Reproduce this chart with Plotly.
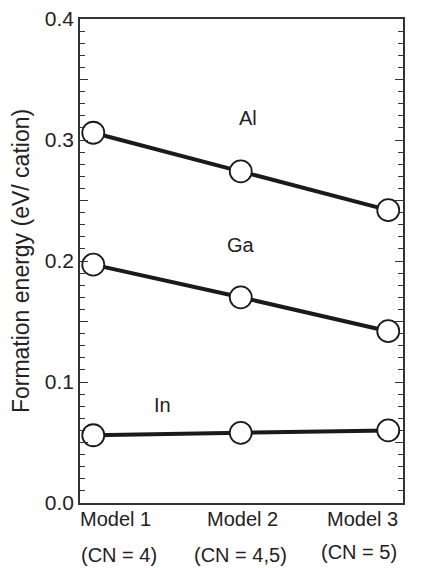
import plotly.graph_objects as go

models = ["Model 1", "Model 2", "Model 3"]
cn_labels = ["(CN = 4)", "(CN = 4,5)", "(CN = 5)"]
al = [0.306, 0.274, 0.242]
ga = [0.197, 0.170, 0.142]
in_ = [0.056, 0.058, 0.060]
series = [("Al", al), ("Ga", ga), ("In", in_)]
label_pos = {"Al": (1.05, 0.318), "Ga": (1.0, 0.213), "In": (0.47, 0.081)}
ytick_vals = [0.0, 0.05, 0.1, 0.15, 0.2, 0.25, 0.3, 0.35, 0.4]
ytick_text = ["0.0", "", "0.1", "", "0.2", "", "0.3", "", "0.4"]

FONT = "Liberation Sans, Arial, sans-serif"
xs = [0, 1, 2]
fig = go.Figure()
for name, vals in series:
    fig.add_trace(go.Scatter(
        x=xs, y=vals, mode="lines+markers", name=name,
        line=dict(color="#1a1a1a", width=4),
        marker=dict(size=22, color="white", line=dict(color="#1a1a1a", width=1.8)),
        showlegend=False, cliponaxis=False))
    lx, ly = label_pos[name]
    fig.add_annotation(x=lx, y=ly, text=name, showarrow=False,
                       font=dict(size=20, color="#222"), xref="x", yref="y")

label_x = [-0.005, 0.503, 0.991]
cn_x = [-0.003, 0.498, 0.989]
cn_y = [-0.107, -0.107, -0.101]
for i in range(3):
    fig.add_annotation(x=label_x[i], y=-0.033, text=models[i], showarrow=False,
                       xref="paper", yref="paper", yanchor="middle",
                       font=dict(size=20, color="#222"))
    fig.add_annotation(x=cn_x[i], y=cn_y[i], text=cn_labels[i],
                       showarrow=False, xref="paper", yref="paper", yanchor="middle",
                       font=dict(size=20, color="#222"))

# page body has an 8px margin: shrink figure by 8px and offset margins
fig.update_layout(
    width=435, height=560,
    margin=dict(l=72, r=40, t=11, b=65),
    paper_bgcolor="white", plot_bgcolor="white",
    font=dict(family=FONT, color="#222"),
)
fig.update_xaxes(range=[-0.09, 2.1], showline=True, linecolor="#333", linewidth=1.5,
                 mirror=True, showticklabels=False, ticks="", showgrid=False,
                 zeroline=False, automargin=False)
fig.update_yaxes(range=[0, 0.4], showline=True, linecolor="#333", linewidth=1.5,
                 mirror="ticks", ticks="inside", ticklen=8, tickwidth=1.2,
                 tickcolor="#333", tickvals=ytick_vals, ticktext=ytick_text,
                 tickfont=dict(size=21), showgrid=False, zeroline=False,
                 automargin=False, ticklabeloverflow="allow",
                 minor=dict(ticks="inside", ticklen=5, dtick=0.01, tickcolor="#333",
                            tickwidth=1.1, showgrid=False),
                 title=dict(text="Formation energy (eV/ cation)", font=dict(size=23),
                            standoff=10))
fig.write_html("out.html")
